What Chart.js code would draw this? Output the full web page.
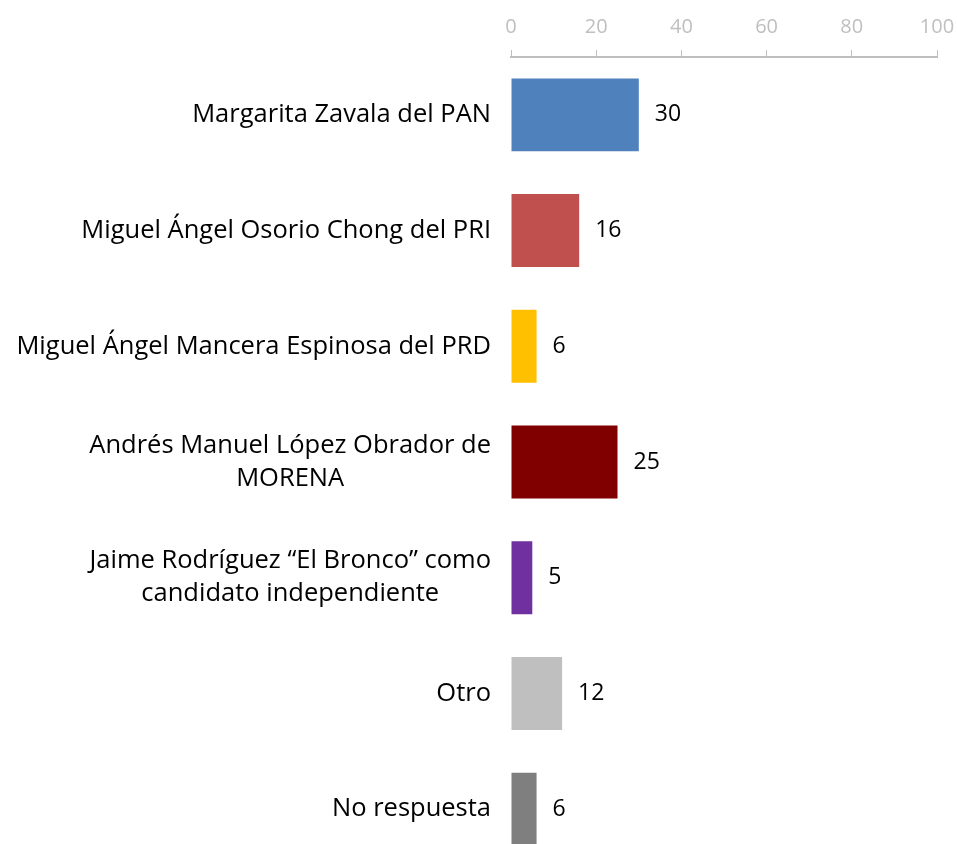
<!DOCTYPE html>
<html>
<head>
<meta charset="utf-8">
<script src="https://cdn.jsdelivr.net/npm/chart.js@4.4.0/dist/chart.umd.min.js"></script>
<style>
    html, body { margin: 0; padding: 0; background: #ffffff; overflow: hidden; }
    #wrap { width: 957px; height: 867px; position: relative; }
</style>
</head>
<body>
<div id="wrap"><canvas id="chartVoto"></canvas></div>
<script>
// Datos de la gráfica
const categorias = [
    ['Margarita Zavala del PAN'],
    ['Miguel Ángel Osorio Chong del PRI'],
    ['Miguel Ángel Mancera Espinosa del PRD'],
    ['Andrés Manuel López Obrador de', 'MORENA'],
    ['Jaime Rodríguez “El Bronco” como', 'candidato independiente'],
    ['Otro'],
    ['No respuesta']
];
const valores = [30, 16, 6, 25, 5, 12, 6];
const ticksX = [0, 20, 40, 60, 80, 100];

const colores = ['#4F81BD', '#C0504D', '#FFC000', '#800000', '#7030A0', '#BFBFBF', '#7F7F7F'];
const fuente = "'Open Sans', Lato, sans-serif";

// Etiquetas del eje Y: bloque alineado a la derecha, líneas centradas
const etiquetasY = {
    id: 'etiquetasY',
    afterDraw(chart) {
        const ctx = chart.ctx;
        const y = chart.scales.y;
        const xDer = chart.chartArea.left - 20;
        ctx.save();
        ctx.font = '25.5px ' + fuente;
        ctx.fillStyle = '#000000';
        ctx.textAlign = 'center';
        ctx.textBaseline = 'middle';
        const alto = 33;
        categorias.forEach((lineas, i) => {
            const yc = y.getPixelForValue(i);
            const ancho = Math.max(...lineas.map(l => ctx.measureText(l).width));
            const xc = xDer - ancho / 2;
            const y0 = yc - (lineas.length - 1) * alto / 2;
            lineas.forEach((l, j) => ctx.fillText(l, xc, y0 + j * alto));
        });
        ctx.restore();
    }
};

// Valores a la derecha de cada barra
const valoresBarra = {
    id: 'valoresBarra',
    afterDatasetsDraw(chart) {
        const ctx = chart.ctx;
        const meta = chart.getDatasetMeta(0);
        ctx.save();
        ctx.font = '23px ' + fuente;
        ctx.fillStyle = '#000000';
        ctx.textAlign = 'left';
        ctx.textBaseline = 'middle';
        meta.data.forEach((bar, i) => {
            ctx.fillText(String(valores[i]), bar.x + 16, bar.y);
        });
        ctx.restore();
    }
};

new Chart(document.getElementById('chartVoto'), {
    type: 'bar',
    data: {
        labels: categorias.map(c => c.join(' ')),
        datasets: [{
            data: valores,
            backgroundColor: colores,
            borderWidth: 0,
            categoryPercentage: 1,
            barPercentage: 0.63
        }]
    },
    options: {
        indexAxis: 'y',
        responsive: true,
        maintainAspectRatio: false,
        animation: false,
        layout: { padding: { left: 503, right: 20, top: 4, bottom: 0 } },
        plugins: {
            legend: { display: false },
            tooltip: { enabled: false }
        },
        scales: {
            x: {
                position: 'top',
                min: 0,
                max: 100,
                afterBuildTicks: function (axis) {
                    axis.ticks = ticksX.map(v => ({ value: v }));
                },
                afterFit: function (axis) {
                    axis.paddingLeft = 0;
                    axis.paddingRight = 0;
                },
                ticks: {
                    color: '#BFBFBF',
                    padding: 11,
                    font: { family: fuente, size: 20 }
                },
                grid: {
                    drawOnChartArea: false,
                    drawTicks: true,
                    tickLength: 7,
                    color: '#BFBFBF'
                },
                border: { display: true, color: '#BFBFBF', width: 2 }
            },
            y: {
                ticks: { display: false },
                grid: { display: false },
                border: { display: false }
            }
        }
    },
    plugins: [etiquetasY, valoresBarra]
});
</script>
</body>
</html>
